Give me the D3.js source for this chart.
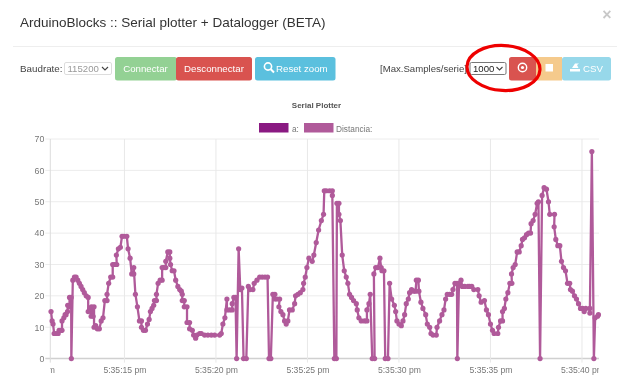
<!DOCTYPE html>
<html>
<head>
<meta charset="utf-8">
<script src="https://cdn.jsdelivr.net/npm/d3@7"></script>
<style>
    html, body { margin: 0; padding: 0; background: #fff; overflow: hidden; }
    svg { filter: blur(.35px); }
    text { font-family: "Liberation Sans", Arial, sans-serif; }
</style>
</head>
<body>
<svg id="chart" width="619" height="386"></svg>
<script>
// seconds after 5:35:00 pm
const sampleTimes = [
    10.99,11.05,11.10,11.16,11.27,11.38,11.43,11.54,11.59,11.59,11.69,11.76,11.81,11.89,11.90,12.00,12.00,12.09,12.10,12.18,
    12.27,12.36,12.45,12.54,12.63,12.72,12.81,12.91,13.02,13.02,13.11,13.18,13.20,13.29,13.34,13.34,13.43,13.52,13.63,13.73,
    13.83,13.93,14.05,14.05,14.14,14.25,14.36,14.36,14.45,14.58,14.56,14.67,14.78,14.87,14.98,15.13,15.20,15.31,15.40,15.51,
    15.51,15.60,15.71,15.82,15.93,15.93,16.04,16.15,16.26,16.35,16.42,16.51,16.60,16.64,16.75,16.75,16.84,16.95,17.06,17.06,
    17.15,17.26,17.26,17.37,17.48,17.48,
    17.52,17.61,17.71,17.80,17.92,18.02,18.11,18.16,18.16,18.27,18.27,18.42,18.42,18.56,18.56,18.71,18.78,18.89,18.96,19.11,
    19.20,19.38,19.56,19.75,19.93,20.20,20.29,20.38,20.49,20.60,20.60,20.75,20.89,20.89,20.98,21.07,21.13,21.24,21.33,21.42,
    21.51,21.66,21.77,21.86,22.02,22.09,22.24,22.39,22.53,22.68,22.82,22.90,23.00,23.11,23.22,23.22,23.33,23.48,23.44,23.55,
    23.66,23.75,23.84,23.93,24.02,24.17,24.30,24.35,24.48,24.61,24.75,24.79,24.88,24.97,25.08,25.26,25.35,25.48,25.61,
    25.76,25.88,25.92,26.03,26.21,26.36,26.36,26.47,26.58,26.61,26.72,26.72,26.80,26.90,27.01,27.12,27.21,27.30,27.41,27.52,
    27.67,27.72,27.81,27.94,28.12,28.25,28.25,28.36,28.43,28.54,28.67,28.63,28.73,28.85,28.96,29.03,29.07,29.18,29.25,29.40,
    29.49,29.60,29.75,29.82,29.89,30.00,30.13,30.22,30.31,30.40,30.51,30.58,30.69,30.80,30.91,30.95,31.06,31.09,31.20,31.31,
    31.46,31.55,31.68,31.75,31.86,32.04,32.08,32.22,32.35,32.46,32.55,32.64,32.77,32.88,32.95,33.06,33.17,33.19,33.28,33.39,
    33.46,33.59,33.77,33.86,
    33.98,34.09,34.31,34.38,34.49,34.67,34.78,34.89,35.00,35.11,35.20,35.40,35.44,35.55,35.66,35.66,35.76,35.84,35.95,36.06,
    36.17,36.15,36.24,36.35,36.46,36.57,36.68,36.75,36.86,36.97,37.08,37.19,37.22,37.33,37.44,37.55,37.62,37.71,37.82,37.93,
    38.06,38.17,38.24,38.50,38.48,38.57,38.68,38.79,38.88,38.99,39.10,39.21,39.33,39.37,39.48,39.59,39.70,39.81,39.92,40.03,
    40.12,40.21,40.43,40.43,40.54,40.65,40.72,40.85,40.90
];
const distancia = [
    15,12,11,8,8,8,9,9,9,12,13,14,14,15,17,16.5,19.5,19.5,0,25,
    26,26,25,24,23,22,21,20,19.5,15,16,13.5,16.5,13.5,16.5,10,10.5,9.5,9.5,12,
    13,18.5,18.5,20.5,24,26,26,30,30,30,33,35,35.5,39,39,39,35,32,27,27,
    29,20.5,16.5,12,12,10,9,9,11,12.5,15,16,17,18.5,18.5,20.5,24,25,25,29,
    29,29,31,34,34,32,
    30,28,28,25,23,22,21.5,20.5,18.5,18.5,16.5,16.5,11.5,11.5,9.5,9,7.5,6.5,7.5,8,
    8,7.5,7.5,7.5,7.5,7.5,8,11,13,19,15.5,15.5,15.5,17.5,19.5,19.5,0,35,22,22.5,
    0,0,23,22,22,24,25,26,26,26,26,0,0,20.5,20.5,19,19,19,16.5,15,
    14,12,11,12,15.5,15.5,17.5,20,20.5,21,22,24,26,29,32,31,33,37,41,
    44,46,53.5,53.5,53.5,53.5,52,0,0,49.5,49.5,46,44,33,28,26,24,20.5,19.5,18.5,
    17.5,15.5,13,12,12,12,15.5,17.5,20.5,0,0,27,29,29,32,29,28,28,0,0,
    24,19,17,15,12,11,10.5,12,14,17.5,19,21,22,21.5,21.5,25,25,21.5,18,16,
    14,11,10,8,7.5,7.5,10,12,14,15.5,19,20.5,20.5,20.5,22,24,24,0,24,25,
    23,23,23,23,
    23,22,22,20,18,18.5,15.5,14,11,9,8,8,10,12,12,15,16,19,21,24,
    24,27,29,30,34,34,36,38,38.5,39.5,40,40,43,44,46,49.5,50,0,52,54.5,
    54,50,46,46,42,38,36,36,31,29,28,24,24,22,21.5,20,19,17.5,16,16,
    15,16,16,14.5,66,0,13,13.5,14
];
const yTicks = [0, 10, 20, 30, 40, 50, 60, 70];
const xTicks = [10, 15, 20, 25, 30, 35, 40];
const legendLabels = ["a:", "Distancia:"];
const legendColors = ["#8a1a82", "#b05a9a"];
const baudrate = "115200";
const maxSamples = "1000";

const svg = d3.select("#chart");
const plot = {left: 50.3, right: 599, top: 139, bottom: 358.6};

const x = d3.scaleLinear().domain([10.95, 40.93]).range([plot.left, plot.right]);
const y = d3.scaleLinear().domain([0, 70]).range([plot.bottom, plot.top]);

function label(txt, px, py, size, color, anchor, weight) {
    return svg.append("text")
        .attr("x", px).attr("y", py)
        .attr("font-size", size)
        .attr("fill", color)
        .attr("text-anchor", anchor || "start")
        .attr("font-weight", weight || "normal")
        .text(txt);
}

function button(px, width, color, rx) {
    svg.append("rect")
        .attr("x", px).attr("y", 57)
        .attr("width", width).attr("height", 23.5)
        .attr("rx", rx).attr("fill", color);
}

function selectBox(px, width, txt, border, color) {
    svg.append("rect")
        .attr("x", px + .5).attr("y", 62.5)
        .attr("width", width).attr("height", 12)
        .attr("rx", 1.5).attr("fill", "#fff").attr("stroke", border);
    label(txt, px + 3.5, 71.8, 9.6, color);
    svg.append("path")
        .attr("d", `M${px + width - 9},67 l3,3 l3,-3`)
        .attr("fill", "none").attr("stroke", "#444").attr("stroke-width", 1.1);
}

// Modal header
label("ArduinoBlocks :: Serial plotter + Datalogger (BETA)", 20, 27, 13.5, "#333");
label("×", 607, 20, 16, "#c8c8c8", "middle", "bold");
svg.append("line")
    .attr("x1", 13).attr("x2", 617).attr("y1", 46.5).attr("y2", 46.5)
    .attr("stroke", "#eee");

// Toolbar
label("Baudrate:", 20, 71.5, 9.8, "#444");
selectBox(64, 47, baudrate, "#ddd", "#999");
button(115, 62, "#93d194", 2.5);
button(176, 76, "#d9534f", 2.5);
label("Connectar", 145.5, 71.5, 9.7, "#fff", "middle");
label("Desconnectar", 214, 71.5, 9.7, "#fff", "middle");
button(255, 80.5, "#5bc0de", 2.5);
svg.append("circle").attr("cx", 268).attr("cy", 66.5).attr("r", 3.6)
    .attr("fill", "none").attr("stroke", "#fff").attr("stroke-width", 1.6);
svg.append("line").attr("x1", 270.8).attr("y1", 69.3).attr("x2", 274).attr("y2", 72.5)
    .attr("stroke", "#fff").attr("stroke-width", 2);
label("Reset zoom", 276, 71.5, 9.7, "#fff");

label("[Max.Samples/serie]", 380, 71.5, 9.6, "#444");
selectBox(469.5, 36, maxSamples, "#777", "#222");
button(509, 28, "#d9534f", 2.5);
button(536, 26, "#f5ca8c", 0);
button(562, 49, "#97d8ea", 2.5);
svg.append("circle").attr("cx", 522.5).attr("cy", 67.5).attr("r", 4.2)
    .attr("fill", "none").attr("stroke", "#fff").attr("stroke-width", 1.4);
svg.append("circle").attr("cx", 522.5).attr("cy", 67.5).attr("r", 1.6).attr("fill", "#fff");
svg.append("rect").attr("x", 545.5).attr("y", 64).attr("width", 7.5).attr("height", 7.5).attr("fill", "#fff");
svg.append("path").attr("d", "M570,71.5 h10 v-2.6 h-10 z M572,68 l3,-4.5 l4,0 l-2,1.5 l1.5,3 z").attr("fill", "#fff");
label("CSV", 583, 71.5, 9.7, "#fff");

// Chart title + legend
label("Serial Plotter", 316.5, 108, 8, "#555", "middle", "bold");
const legendRectX = [259, 304];
const legendTextX = [292, 336];
legendLabels.forEach(function(name, i) {
    svg.append("rect")
        .attr("x", legendRectX[i]).attr("y", 123)
        .attr("width", 29.5).attr("height", 9.5)
        .attr("fill", legendColors[i]);
    label(name, legendTextX[i], 131.5, 8.3, "#777");
});

// Grid
svg.append("g").selectAll("line").data(yTicks).enter().append("line")
    .attr("x1", plot.left - 5).attr("x2", plot.right)
    .attr("y1", d => y(d)).attr("y2", d => y(d))
    .attr("stroke", d => d === 0 ? "#d0d0d0" : "#ececec")
    .attr("stroke-width", d => d === 0 ? 1.5 : 1);
svg.append("g").selectAll("line").data(xTicks.filter(d => x(d) >= plot.left)).enter().append("line")
    .attr("x1", d => x(d)).attr("x2", d => x(d))
    .attr("y1", plot.top).attr("y2", plot.bottom + 4)
    .attr("stroke", "#e8e8e8");
svg.append("line")
    .attr("x1", plot.left).attr("x2", plot.left)
    .attr("y1", plot.top).attr("y2", plot.bottom + 4)
    .attr("stroke", "#dcdcdc");

// Axes
svg.append("clipPath").attr("id", "x-clip").append("rect")
    .attr("x", plot.left).attr("y", 360).attr("width", plot.right - plot.left).attr("height", 24);

const yAxis = svg.append("g")
    .attr("transform", "translate(" + (plot.left - 6) + ",0)")
    .call(d3.axisLeft(y).tickValues(yTicks).tickSize(0).tickPadding(0));
yAxis.select(".domain").remove();
yAxis.selectAll("text").attr("font-size", 8.8).attr("fill", "#777").attr("font-family", null);

const xAxis = svg.append("g")
    .attr("clip-path", "url(#x-clip)")
    .append("g")
    .attr("transform", "translate(0," + (plot.bottom + 5.5) + ")")
    .call(d3.axisBottom(x).tickValues(xTicks).tickSize(0).tickPadding(3)
        .tickFormat(d => "5:35:" + d + " pm"));
xAxis.select(".domain").remove();
xAxis.selectAll("text").attr("font-size", 8.6).attr("fill", "#777").attr("font-family", null);

// Distancia series
const samples = sampleTimes.map((t, i) => ({t: t, value: distancia[i]}));
const line = d3.line().x(d => x(d.t)).y(d => y(d.value));

svg.append("path")
    .datum(samples)
    .attr("d", line)
    .attr("fill", "none")
    .attr("stroke", legendColors[1])
    .attr("stroke-width", 2.3)
    .attr("stroke-linejoin", "round");

svg.append("g").selectAll("circle").data(samples).enter().append("circle")
    .attr("cx", d => x(d.t))
    .attr("cy", d => y(d.value))
    .attr("r", 2.6)
    .attr("fill", legendColors[1]);

// Hand drawn red ring round the record button
svg.append("ellipse")
    .attr("cx", 503.5).attr("cy", 68)
    .attr("rx", 36.5).attr("ry", 22.5)
    .attr("transform", "rotate(3 503.5 68)")
    .attr("fill", "none")
    .attr("stroke", "#ee0000")
    .attr("stroke-width", 3.2);
</script>
</body>
</html>
